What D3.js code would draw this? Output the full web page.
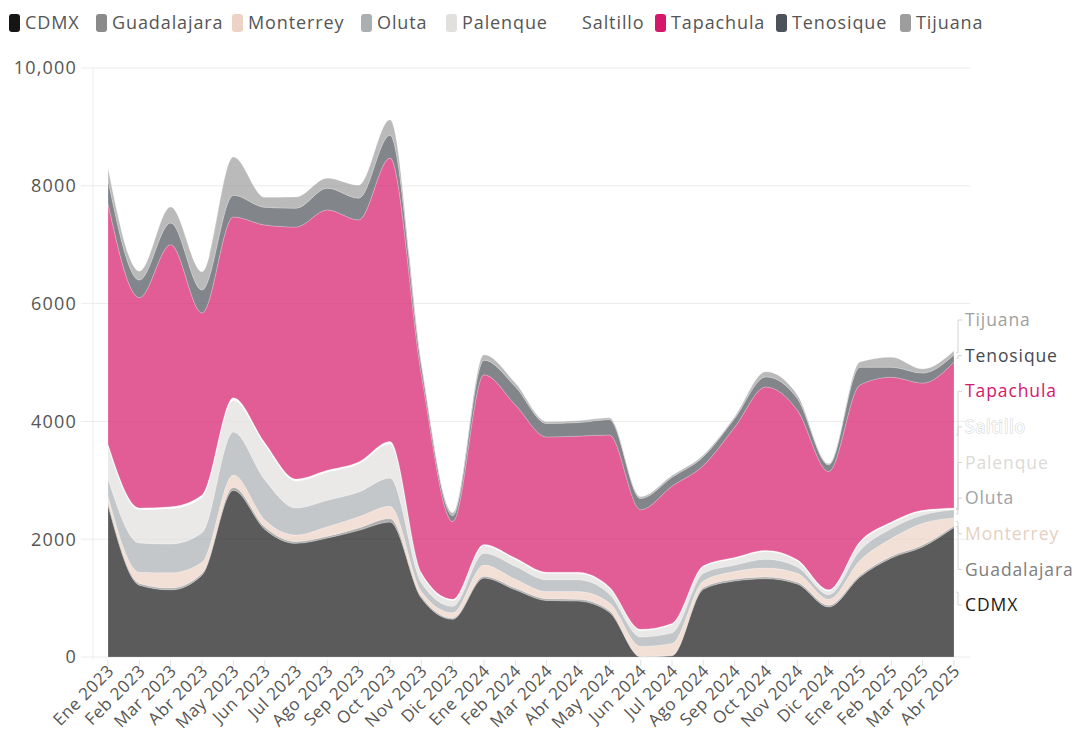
<!DOCTYPE html>
<html>
<head>
<meta charset="utf-8">
<script src="https://cdn.jsdelivr.net/npm/d3@7"></script>
<style>
  body { margin: 0; background: #fff; }
  svg { font-family: "Open Sans", "Noto Sans", sans-serif; }
</style>
</head>
<body>
<div id="chart"></div>
<script>
// meses (eje x)
const months = ["Ene 2023","Feb 2023","Mar 2023","Abr 2023","May 2023","Jun 2023","Jul 2023","Ago 2023","Sep 2023","Oct 2023","Nov 2023","Dic 2023",
  "Ene 2024","Feb 2024","Mar 2024","Abr 2024","May 2024","Jun 2024","Jul 2024","Ago 2024","Sep 2024","Oct 2024","Nov 2024","Dic 2024",
  "Ene 2025","Feb 2025","Mar 2025","Abr 2025"];

const cities = ["CDMX","Guadalajara","Monterrey","Oluta","Palenque","Saltillo","Tapachula","Tenosique","Tijuana"];

// valores
const CDMX        = [2580,1220,1140,1390,2830,2170,1930,2020,2150,2290,1000, 640,1340,1140, 960, 950, 760,   0,  20,1150,1290,1330,1240, 850,1360,1680,1870,2200];
const Guadalajara = [  50,  30,  30,  30,  50,  40,  30,  30,  40,  60,  30,  20,  30,  30,  30,  30,  30,  10,  10,  30,  30,  30,  30,  30,  30,  30,  30,  30];
const Monterrey   = [ 100, 190, 260, 190, 210, 120, 110, 160, 190, 210,  80,  90, 190, 150, 120, 130, 130, 170, 200, 110, 130, 150, 150, 100, 250, 300, 370, 130];
const Oluta       = [ 300, 495, 490, 500, 730, 680, 460, 450, 420, 480, 150, 110, 200, 220, 200, 200, 150, 160, 180, 130, 110, 150, 110,  80, 170, 170, 140, 140];
const Palenque    = [ 550, 570, 600, 600, 540, 600, 460, 480, 480, 580, 150, 100, 130, 120, 110, 110, 100, 110, 140, 110, 110, 130, 100,  60, 130,  90,  60,  10];
const Saltillo    = [  30,  25,  30,  40,  40,  30,  30,  30,  30,  40,  20,  20,  20,  20,  20,  20,  20,  20,  20,  20,  20,  20,  20,  20,  20,  20,  20,  20];
const Tapachula   = [4090,3570,4450,3090,3070,3695,4280,4420,4110,4810,3370,1320,2880,2600,2295,2310,2580,2030,2330,1700,2210,2775,2540,2010,2660,2460,2160,2480];
const Tenosique   = [ 400, 300, 370, 390, 370, 300, 320, 370, 370, 390, 150, 100, 250, 310, 230, 230, 260, 190, 150, 150, 150, 170, 200, 110, 300, 170, 170, 120];
const Tijuana     = [ 200, 150, 270, 310, 650, 170, 190, 170, 220, 260,  50,  50,  90,  60,  30,  30,  30,  30,  30,  30,  30,  90,  60,  20,  90, 170,  70,  70];

const yTicks = [0, 2000, 4000, 6000, 8000, 10000];

const series = { CDMX, Guadalajara, Monterrey, Oluta, Palenque, Saltillo, Tapachula, Tenosique, Tijuana };
const colors = {
  CDMX: "#151515", Guadalajara: "#8a8a8a", Monterrey: "#ecd3c5", Oluta: "#a9afb3", Palenque: "#e2e0dd",
  Saltillo: "#ffffff", Tapachula: "#d6186a", Tenosique: "#4d5159", Tijuana: "#9d9d9d"
};
const labelColors = {
  CDMX: "#1a1a1a", Guadalajara: "#7d7d7d", Monterrey: "#e6d0c3", Oluta: "#9ea3a6", Palenque: "#dcdad6",
  Saltillo: "#ffffff", Tapachula: "#d6186a", Tenosique: "#454a52", Tijuana: "#a0a0a0"
};

const rows = months.map((m, i) => {
  const r = { month: m };
  cities.forEach(c => r[c] = series[c][i]);
  return r;
});

const width = 1083, height = 744;
const svg = d3.select("#chart").append("svg").attr("width", width).attr("height", height);

const x = d3.scalePoint().domain(months).range([108, 954]);
const y = d3.scaleLinear().domain([0, 10000]).range([657, 68]);

// grid
svg.append("g").selectAll("line").data(yTicks).join("line")
  .attr("x1", 81).attr("x2", 970)
  .attr("y1", d => y(d)).attr("y2", d => y(d))
  .attr("stroke", "#ececec").attr("stroke-width", 1);
svg.append("line").attr("x1", 93).attr("x2", 93).attr("y1", 68).attr("y2", 660)
  .attr("stroke", "#ececec");

// y labels
svg.append("g").selectAll("text").data(yTicks).join("text")
  .attr("x", 77).attr("y", d => y(d)).attr("dy", "0.35em")
  .attr("text-anchor", "end").attr("font-size", 18).attr("letter-spacing", 1.2).attr("fill", "#555")
  .text(d => d === 10000 ? "10,000" : d);

// stacked areas
const stack = d3.stack().keys(cities);
const layers = stack(rows);
const area = d3.area()
  .x(d => x(d.data.month))
  .y0(d => y(d[0])).y1(d => y(d[1]))
  .curve(d3.curveMonotoneX);

svg.append("g").selectAll("path").data(layers).join("path")
  .attr("d", area)
  .attr("fill", d => colors[d.key])
  .attr("fill-opacity", d => d.key === "Saltillo" ? 1 : 0.7)
  .attr("stroke", "#fff").attr("stroke-opacity", 0.35).attr("stroke-width", 0.6);

// x ticks + labels
const xg = svg.append("g");
xg.selectAll("line").data(months).join("line")
  .attr("x1", d => x(d)).attr("x2", d => x(d)).attr("y1", 660).attr("y2", 666)
  .attr("stroke", "#e2e2e2");
xg.selectAll("text").data(months).join("text")
  .attr("transform", d => `translate(${x(d) + 7},${672}) rotate(-45)`)
  .attr("text-anchor", "end").attr("font-size", 17).attr("letter-spacing", 0.6).attr("fill", "#555")
  .text(d => d);

// etiquetas a la derecha
const last = layers.map(l => ({ key: l.key, mid: y((l[l.length - 1][0] + l[l.length - 1][1]) / 2) }));
const labelY = d3.scaleLinear().domain([0, cities.length - 1]).range([605, 320]);
const lg = svg.append("g");
last.forEach((d, i) => {
  const ly = labelY(i);
  lg.append("path")
    .attr("d", `M956,${d.mid}L958,${d.mid}L958,${ly}L962,${ly}`)
    .attr("fill", "none").attr("stroke", "#d4d4d4").attr("stroke-width", 1);
  const t = lg.append("text")
    .attr("x", 965).attr("y", ly).attr("dy", "0.35em")
    .attr("font-size", 17.5).attr("letter-spacing", 0.9).attr("fill", labelColors[d.key])
    .text(d.key);
  if (d.key === "Saltillo") {
    t.attr("stroke", "#d8d8d8").attr("stroke-width", 1.2).attr("paint-order", "stroke");
  }
});

// leyenda
const legendX = [9, 96, 232, 361, 446, 566, 655, 776, 900];
const leg = svg.append("g");
cities.forEach((c, i) => {
  const g = leg.append("g").attr("transform", `translate(${legendX[i]},0)`);
  g.append("rect").attr("x", 0).attr("y", 14).attr("width", 11).attr("height", 18).attr("rx", 3)
    .attr("fill", colors[c]);
  g.append("text").attr("x", 16).attr("y", 23).attr("dy", "0.35em")
    .attr("font-size", 18).attr("letter-spacing", 0.9).attr("fill", "#555").text(c);
});
</script>
</body>
</html>
